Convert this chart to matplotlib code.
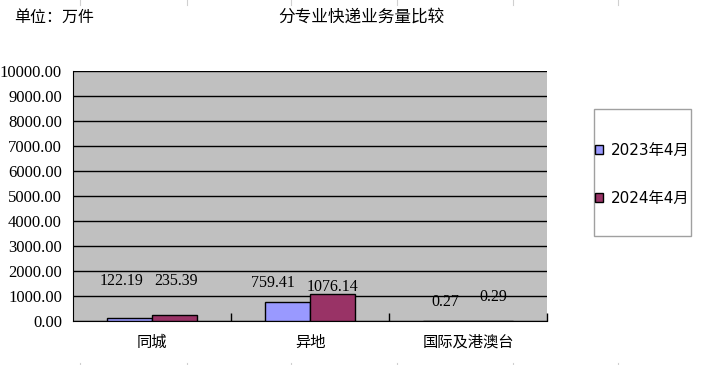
import matplotlib.pyplot as plt
from matplotlib.patches import Rectangle, Patch
from matplotlib.lines import Line2D
import numpy as np

plt.rcParams['font.family'] = ['Noto Sans CJK SC', 'DejaVu Sans']

# data
categories = ['同城', '异地', '国际及港澳台']
series = ['2023年4月', '2024年4月']
values_2023 = [122.19, 759.41, 0.27]
values_2024 = [235.39, 1076.14, 0.29]
colors = ['#9999FF', '#993366']

# label offsets from bar top (pixels), as excel placed them
label_off = [[(-8, 37), (-15, 19), (0, 19)], [(2, 34), (0, 7), (3, 24)]]

W, H = 717, 365
fig = plt.figure(figsize=(W / 100, H / 100), dpi=100)

# faint spreadsheet grid lines at top and bottom
for xp in [80, 187, 291, 397, 513, 618]:
    fig.add_artist(Line2D([xp / W, xp / W], [1, 1 - 5 / H], color='#d0d0d0', lw=0.8))
    fig.add_artist(Line2D([xp / W, xp / W], [2 / H, 0], color='#d0d0d0', lw=0.8))

ax = fig.add_axes([73 / W, (H - 321) / H, (547 - 73) / W, (321 - 71) / H])
ax.set_facecolor('#C0C0C0')

x = np.arange(len(categories))
bw = 0.285
for k, vals in enumerate([values_2023, values_2024]):
    pos = x + (k - 0.5) * bw
    ax.bar(pos, vals, width=bw, color=colors[k], edgecolor='black', linewidth=1, zorder=3)
    for p, v, off in zip(pos, vals, label_off[k]):
        ax.annotate(f'{v:.2f}', (p, v), xytext=off, textcoords='offset pixels',
                    ha='center', va='center', fontsize=11.5, family='Liberation Serif',
                    zorder=4)

ax.set_xlim(-0.5, 2.5)
ax.set_ylim(0, 10000)
ax.set_yticks(np.arange(0, 10001, 1000))
ax.set_yticklabels([f'{t:.2f}' for t in np.arange(0, 10001, 1000)],
                   family='Liberation Serif', fontsize=12)
ax.yaxis.grid(True, color='black', lw=1)
ax.set_axisbelow(True)
ax.tick_params(axis='y', length=0, pad=8)

ax.set_xticks(x)
ax.set_xticklabels(categories, fontsize=11)
ax.tick_params(axis='x', length=0, pad=9)
# category boundary ticks pointing up from axis
ax.set_xticks([0.5, 1.5, 2.5], minor=True)
ax.tick_params(axis='x', which='minor', direction='in', length=6, width=1, color='black')

for s in ['top', 'right']:
    ax.spines[s].set_visible(False)
ax.spines['left'].set_color('black')
ax.spines['bottom'].set_color('black')

fig.text(14 / W, 1 - 17 / H, '单位：万件', fontsize=11.5, va='center', ha='left')
fig.text(361 / W, 1 - 17 / H, '分专业快递业务量比较', fontsize=12, va='center', ha='center')

# legend box
fig.add_artist(Rectangle((594 / W, 1 - 236 / H), 97 / W, 127 / H, transform=fig.transFigure,
                         facecolor='white', edgecolor='#a0a0a0', lw=1))
handles = [Patch(facecolor=c, edgecolor='black', lw=1) for c in colors]
fig.legend(handles, series, loc='upper left', bbox_to_anchor=(587 / W, 1 - 135 / H),
           frameon=False, prop={'family': ['DejaVu Sans', 'Noto Sans CJK SC'], 'size': 11},
           handlelength=0.55, handleheight=0.55,
           handletextpad=0.5, labelspacing=2.2, borderpad=0)

fig.savefig('out.png', dpi=100)
